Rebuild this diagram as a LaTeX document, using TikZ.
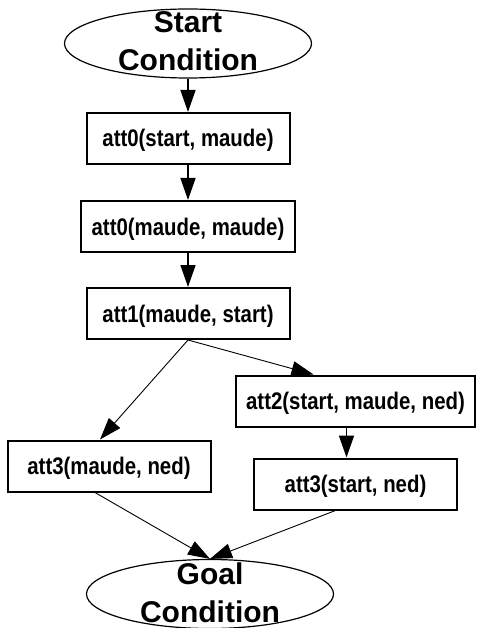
\documentclass[tikz,border=0pt]{standalone}
\usepackage{fontspec}
\setmainfont{Liberation Sans}
\newfontfamily\narrowfont[FakeStretch=0.85]{Liberation Sans}
\usetikzlibrary{positioning,arrows.meta,shapes.geometric}
\tikzset{
  node-box/.style={draw,line width=2pt,minimum width=203pt,minimum height=51pt,
    inner xsep=10.5pt,align=center,text height=17pt,text depth=0pt,
    font=\narrowfont\fontsize{24}{28}\selectfont\bfseries},
  node-term/.style={draw,ellipse,line width=1.2pt,inner sep=0pt,
    minimum width=247pt,minimum height=69pt},
  node-term-text/.style={align=center,inner sep=0pt,
    font=\fontsize{30}{38}\selectfont\bfseries},
  arrow/.style={-{Triangle[length=22pt,width=15pt]},line width=1.6pt},
  arrow-thin/.style={-{Triangle[length=22pt,width=15pt]},line width=0.9pt},
}
\begin{document}
\begin{tikzpicture}[x=1pt,y=-1pt]
  \useasboundingbox (0,0) rectangle (479,628);
  \node[node-term] (start) at (188,43.5) {};
  \node[node-term-text] (startText) at (188,41) {Start\\Condition};
  \node[node-box] (s1) at (188,138.5) {att0(start, maude)};
  \node[node-box,below=35pt of s1] (s2) {att0(maude, maude)};
  \node[node-box,below=34pt of s2] (s3) {att1(maude, start)};
  \node[node-box] (s4) at (355.5,401) {att2(start, maude, ned)};
  \node[node-box] (s5) at (109,466) {att3(maude, ned)};
  \node[node-box,below=30pt of s4] (s6) {att3(start, ned)};
  \node[node-term] (goal) at (210,594) {};
  \node[node-term-text] (goalText) at (210,593) {Goal\\Condition};

  \draw[arrow] (start) -- (s1);
  \draw[arrow] (s1) -- (s2);
  \draw[arrow] (s2) -- (s3);
  \draw[arrow-thin] (s3.south) -- ([xshift=-9pt]s5.north);
  \draw[arrow-thin] (s3.south) -- ([xshift=-42pt]s4.north);
  \draw[arrow] ([xshift=-9pt]s4.south) -- ([xshift=-9pt]s4.south |- s6.north);
  \draw[arrow-thin] ([xshift=-14pt]s5.south) -- (goal.north);
  \draw[arrow-thin] ([xshift=-20pt]s6.south) -- (goal.north);
\end{tikzpicture}
\end{document}
